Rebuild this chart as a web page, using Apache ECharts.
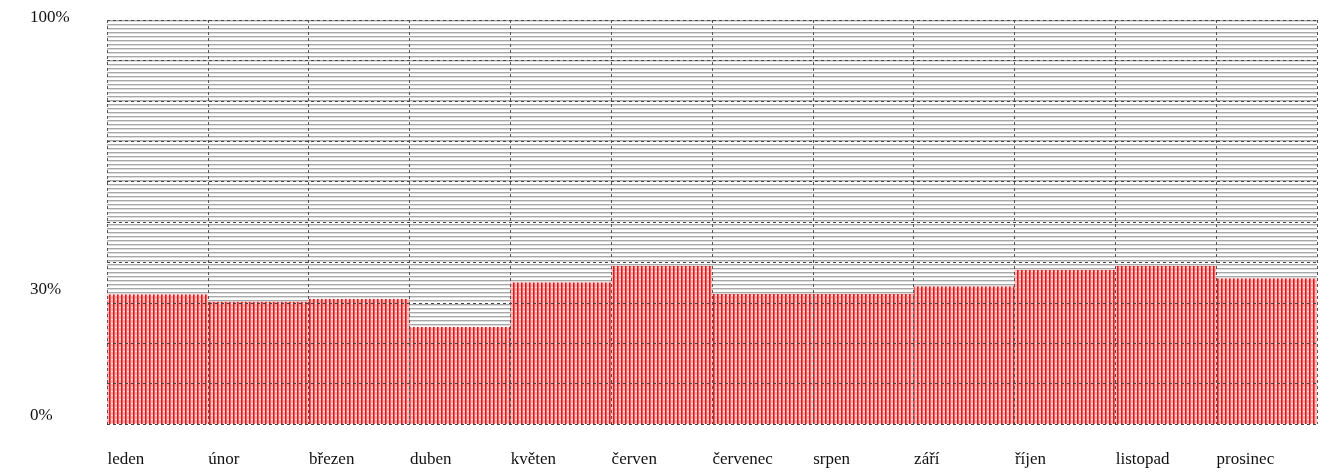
<!DOCTYPE html>
<html>
<head>
<meta charset="utf-8">
<script src="https://cdn.jsdelivr.net/npm/echarts@6/dist/echarts.min.js"></script>
<style>
html,body{margin:0;padding:0;background:#fff}
#divChart{width:1332px;height:475px}
</style>
</head>
<body>
<div id="divChart"></div>
<script>
// data
var months = ['leden','únor','březen','duben','květen','červen','červenec','srpen','září','říjen','listopad','prosinec']
var share = [32.1, 30.3, 31.0, 24.1, 35.1, 39.2, 32.2, 32.2, 34.1, 38.2, 39.2, 36.1]
var yTickLabels = {0:'0%', 30:'30%', 100:'100%'}

var rest = share.map(v=>+(100-v).toFixed(1))

//tiny canvas tiles for the striped fills
var tile = (w,h,draw)=>{
  var c = document.createElement('canvas')
  c.width = w; c.height = h
  draw(c.getContext('2d'))
  return c
}
var redTile = tile(4,4,g=>{
  g.fillStyle='#ffb0b0'; g.fillRect(0,0,4,4)
  g.fillStyle='#ffe0e0'; g.fillRect(0,3,4,1)
  g.fillStyle='#ea1414'; g.fillRect(1,0,1,4)
  g.fillStyle='#f45858'; g.fillRect(2,0,1,4)
})
var grayTile = tile(4,4,g=>{
  g.fillStyle='#ffffff'; g.fillRect(0,0,4,4)
  g.fillStyle='#a8a8a8'; g.fillRect(0,0,4,1)
  g.fillStyle='#dcdcdc'; g.fillRect(0,1,4,1)
})

var font = '"Liberation Serif", "DejaVu Serif", serif'
var txt = '#111'
var chart = echarts.init(document.getElementById('divChart'))
chart.setOption({
  animation:false,
  grid:{left:107,right:15,top:20,bottom:51,containLabel:false},
  xAxis:{
    type:'category', data:months, z:5,
    axisLine:{show:false}, axisTick:{show:false},
    splitLine:{show:true, interval:0, lineStyle:{color:'#555', type:[3,3], width:1}},
    axisLabel:{
      interval:0, margin:27, fontFamily:font, fontSize:17, color:txt,
      formatter:v=>'{m|'+v+'}',
      rich:{m:{width:100, align:'left', fontFamily:font, fontSize:17, color:txt}}
    }
  },
  yAxis:{
    type:'value', min:0, max:100, interval:10, z:5,
    axisLine:{show:false}, axisTick:{show:false},
    splitLine:{show:true, lineStyle:{color:'#444', type:[3,3], width:1}},
    axisLabel:{
      align:'left', margin:77, verticalAlign:'bottom',
      fontFamily:font, fontSize:17, color:txt,
      formatter:v=>{
        if (v==100) return '{t|'+yTickLabels[v]+'}'
        if (v==30) return '{h|'+yTickLabels[v]+'}'
        if (v==0) return '{b|'+yTickLabels[v]+'}'
        return ''
      },
      rich:{
        t:{fontFamily:font, fontSize:17, color:txt, padding:[0,0,-6,0]},
        h:{fontFamily:font, fontSize:17, color:txt, padding:[0,0,5,0]},
        b:{fontFamily:font, fontSize:17, color:txt, padding:[0,0,0,0]}
      }
    }
  },
  series:[
    {type:'bar', stack:'s', data:share, barCategoryGap:'0%', barGap:'0%',
     itemStyle:{color:{image:redTile, repeat:'repeat'}}, silent:true},
    {type:'bar', stack:'s', data:rest, barCategoryGap:'0%',
     itemStyle:{color:{image:grayTile, repeat:'repeat'}}, silent:true}
  ]
})
</script>
</body>
</html>
